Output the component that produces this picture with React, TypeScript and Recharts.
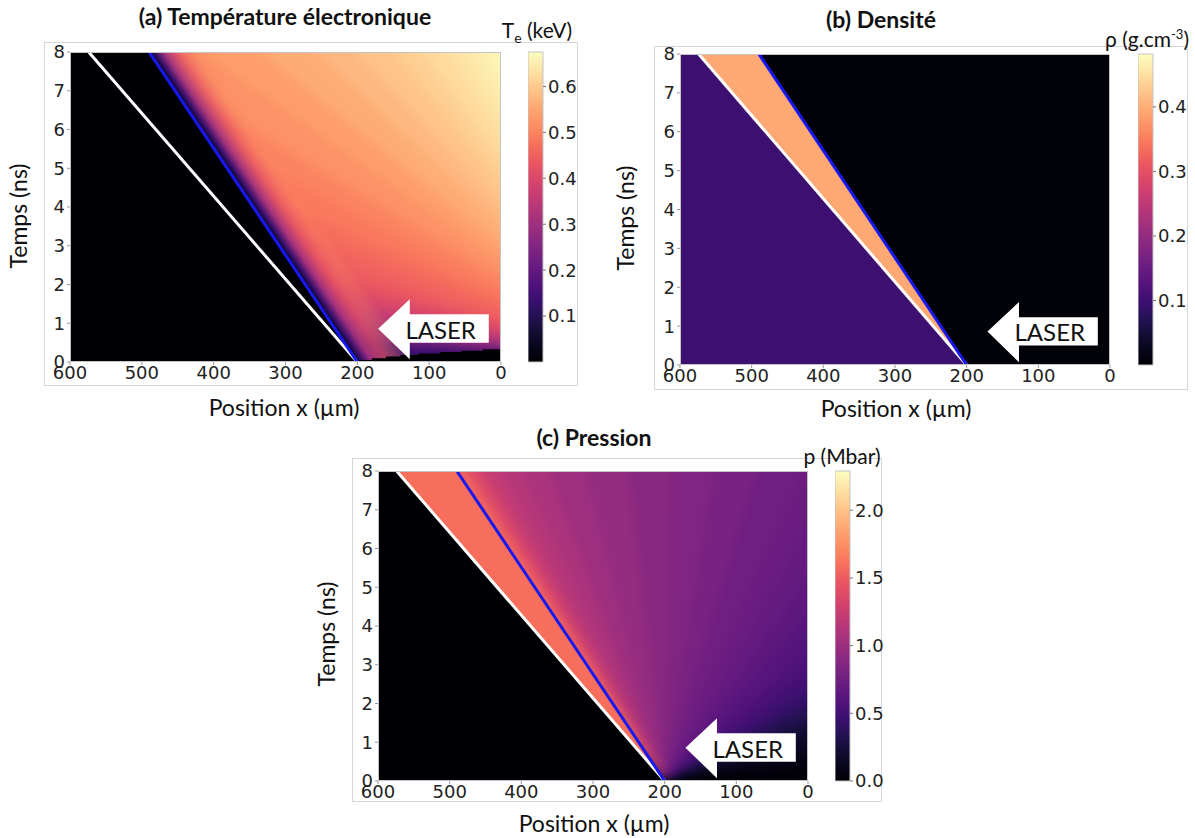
import React from 'react';
import { ComposedChart, Area, Line, Scatter, XAxis, YAxis } from 'recharts';

type Pt = [number, number];
type RangeRow = { x: number; r: [number, number] };

// ---- shared axes: position x in µm, time t in ns ----
const X_TICKS = [600, 500, 400, 300, 200, 100, 0];
const T_TICKS = [0, 1, 2, 3, 4, 5, 6, 7, 8];
const X_MAX = 600;
const T_MAX = 8;

// both fronts leave the target at x = 200 µm, t = 0
const FRONT_ORIGIN: Pt = [200, 0];
const WHITE_FRONT_TOP: Pt = [574, 8];
const BLUE_FRONT_TOP: Pt = [490, 8];

// white LASER arrow outline (x, [low t, high t])
const ARROW_X = [17, 127, 127, 171];
const ARROW_T: Pt[] = [[0.5, 1.23], [0.5, 1.23], [0.07, 1.62], [0.86, 0.86]];
const LASER_AT: Pt = [84, 0.85];

// ---- (a) electron temperature (keV) ----
const TE_MAX = 0.675;
const TE_TICKS = [0.1, 0.2, 0.3, 0.4, 0.5, 0.6];
// isotherms behind the blue front fan out from x = -200 µm, t = 0;
// TE_ISO_T0 = time at which each isotherm crosses x = 0
const TE_FAN_X = -200;
const TE_ISO_T0 = [0, 0.3, 0.5, 0.7, 0.9, 1.1, 1.35, 1.6, 1.9, 2.2, 2.6, 3.0, 3.5, 4.0, 4.6, 5.2, 5.9, 6.6, 7.3, 8.0, 12.0];
const TE_BAND_KEV = [0.135, 0.27, 0.34, 0.39, 0.43, 0.45, 0.465, 0.485, 0.5, 0.52, 0.538, 0.558, 0.575, 0.592, 0.608, 0.624, 0.638, 0.651, 0.662, 0.666];
// thin cooler layer just behind the blue front
const TE_EDGE_AT = [0, 0.1, 0.25, 0.5, 0.8, 1];
const TE_EDGE_KEV = [0.03, 0.13, 0.3, 0.42, 0.5, 0.5];
const TE_EDGE_ALPHA = [1, 1, 0.95, 0.7, 0.25, 0];
// cold strip along the bottom right
const TE_COLD_X = [0, 25, 55, 85, 115, 140, 160, 180, 200];
const TE_COLD_T = [0.33, 0.29, 0.26, 0.22, 0.18, 0.14, 0.1, 0.05, 0];

// ---- (b) density (g/cm3) ----
const RHO_MAX = 0.482;
const RHO_TICKS = [0.1, 0.2, 0.3, 0.4];
const RHO_TARGET = 0.099;
const RHO_SHELL = 0.395;
const RHO_VOID = 0.004;

// ---- (c) pressure (Mbar) ----
const P_MAX = 2.29;
const P_TICKS = [0, 0.5, 1, 1.5, 2];
const P_SHELL = 1.6;
// rarefaction fan from the origin: rays to the top edge, then to the right edge
const P_TOP_X = [490, 480, 468, 452, 430, 400, 360, 310, 250, 190, 130, 70, 0];
const P_RIGHT_T = [6.5, 5.2, 4.2, 3.4, 2.8, 2.3, 1.9, 1.5, 1.1, 0.7, 0.3, 0];
const P_WEDGE_MBAR = [
  1.56, 1.45, 1.33, 1.22, 1.14, 1.08, 1.01, 0.96, 0.9, 0.85, 0.8, 0.75,
  0.72, 0.69, 0.65, 0.6, 0.55, 0.49, 0.42, 0.32, 0.22, 0.14, 0.06, 0.015,
];

const MAGMA = [
  '#000004', '#07061c', '#140e36', '#251255', '#3b0f70', '#51127c', '#641a80',
  '#782281', '#8c2981', '#a1307e', '#b73779', '#cb3e71', '#de4968', '#ec5860',
  '#f7705c', '#fc8961', '#fe9f6d', '#feb77e', '#fecf92', '#fde7a9', '#fcfdbf',
];

const rgbOf = (h: string) => [1, 3, 5].map((i) => parseInt(h.slice(i, i + 2), 16));
function magma(v: number): string {
  const f = Math.max(0, Math.min(1, v)) * (MAGMA.length - 1);
  const i = Math.min(MAGMA.length - 2, Math.floor(f));
  const u = f - i;
  const a = rgbOf(MAGMA[i]);
  const b = rgbOf(MAGMA[i + 1]);
  return `rgb(${a.map((c, k) => Math.round(c + (b[k] - c) * u)).join(',')})`;
}

// convex triangle -> rows for a range Area
function tri(a: Pt, b: Pt, c: Pt): RangeRow[] {
  const v = [a, b, c].sort((p, q) => p[0] - q[0]);
  const span = (p: Pt, q: Pt): [number, number] => [Math.min(p[1], q[1]), Math.max(p[1], q[1])];
  if (v[0][0] === v[1][0]) return [{ x: v[0][0], r: span(v[0], v[1]) }, { x: v[2][0], r: [v[2][1], v[2][1]] }];
  if (v[1][0] === v[2][0]) return [{ x: v[0][0], r: [v[0][1], v[0][1]] }, { x: v[1][0], r: span(v[1], v[2]) }];
  const k = (v[1][0] - v[0][0]) / (v[2][0] - v[0][0]);
  const mid: Pt = [v[1][0], v[0][1] + (v[2][1] - v[0][1]) * k];
  return [
    { x: v[0][0], r: [v[0][1], v[0][1]] },
    { x: v[1][0], r: span(v[1], mid) },
    { x: v[2][0], r: [v[2][1], v[2][1]] },
  ];
}
// push a point further along its ray from the origin (so fans reach past the frame)
const reach = (p: Pt, s = 2): Pt => [FRONT_ORIGIN[0] + (p[0] - FRONT_ORIGIN[0]) * s, FRONT_ORIGIN[1] + (p[1] - FRONT_ORIGIN[1]) * s];

const beyondPlot: RangeRow[] = [{ x: -100, r: [-2, T_MAX + 2] }, { x: X_MAX + 100, r: [-2, T_MAX + 2] }];
const fullPlot: RangeRow[] = [{ x: 0, r: [0, T_MAX] }, { x: X_MAX, r: [0, T_MAX] }];
const leftOf = (top: Pt): RangeRow[] => [
  { x: FRONT_ORIGIN[0], r: [0, 0] },
  { x: top[0], r: [0, T_MAX] },
  { x: X_MAX, r: [0, T_MAX] },
];
const rightOf = (top: Pt): RangeRow[] => [
  { x: 0, r: [0, T_MAX] },
  { x: FRONT_ORIGIN[0], r: [0, T_MAX] },
  { x: top[0], r: [T_MAX, T_MAX] },
];
const frontLine = (top: Pt) => [{ x: FRONT_ORIGIN[0], t: 0 }, { x: top[0], t: top[1] }];
const arrowRows: RangeRow[] = ARROW_X.map((x, i) => ({ x, r: ARROW_T[i] }));
const border = [{ x: 0, t: 0 }, { x: 0, t: T_MAX }, { x: X_MAX, t: T_MAX }, { x: X_MAX, t: 0 }, { x: 0, t: 0 }];

const teRay = (t0: number, x: number) => (t0 * (x - TE_FAN_X)) / (0 - TE_FAN_X);
const teWedges = TE_BAND_KEV.map((kev, i) => ({
  rows: tri([TE_FAN_X, 0], [X_MAX + 100, teRay(TE_ISO_T0[i], X_MAX + 100)], [X_MAX + 100, teRay(TE_ISO_T0[i + 1], X_MAX + 100)]),
  color: magma(kev / TE_MAX),
}));
const teCold: RangeRow[] = TE_COLD_X.map((x, i) => ({ x, r: [0, TE_COLD_T[i]] }));

const pEdge: Pt[] = [...P_TOP_X.map((x): Pt => [x, T_MAX]), ...P_RIGHT_T.map((t): Pt => [0, t])];
const pWedges = P_WEDGE_MBAR.map((p, i) => ({
  rows: tri(FRONT_ORIGIN, reach(pEdge[i]), reach(pEdge[i + 1])),
  color: magma(p / P_MAX),
}));

type Box = { left: number; top: number; width: number; height: number };
const PLOT_A: Box = { left: 70, top: 52, width: 431, height: 310 };
const PLOT_B: Box = { left: 680, top: 54, width: 430, height: 311 };
const PLOT_C: Box = { left: 378, top: 471, width: 430, height: 310 };
const BAR_A: Box = { left: 528, top: 52, width: 15, height: 310 };
const BAR_B: Box = { left: 1138, top: 54, width: 15, height: 311 };
const BAR_C: Box = { left: 835, top: 471, width: 15, height: 310 };
const FRAMES: Box[] = [
  { left: 44, top: 42, width: 534, height: 344 },
  { left: 654, top: 46, width: 534, height: 344 },
  { left: 352, top: 458, width: 530, height: 344 },
];

const AXIS_TICK = { fontSize: 18, fontFamily: 'DejaVu Sans', fill: '#222' };
const WHITE = '#ffffff';
const BLUE = '#1818f0';

const region = (key: string, rows: RangeRow[], fill: string, type: any = 'linear', stroke = 'none') => (
  <Area
    key={key}
    data={rows}
    dataKey="r"
    type={type}
    fill={fill}
    fillOpacity={1}
    stroke={stroke}
    strokeWidth={stroke === 'none' ? 0 : 1}
    dot={false}
    activeDot={false}
    isAnimationActive={false}
  />
);

const fronts = (tag: string) => [
  <Line key={tag + 'w'} data={frontLine(WHITE_FRONT_TOP)} dataKey="t" stroke={WHITE} strokeWidth={3} dot={false} activeDot={false} isAnimationActive={false} />,
  <Line key={tag + 'b'} data={frontLine(BLUE_FRONT_TOP)} dataKey="t" stroke={BLUE} strokeWidth={3} dot={false} activeDot={false} isAnimationActive={false} />,
  region(tag + 'arrow', arrowRows, WHITE),
  <Scatter
    key={tag + 'laser'}
    data={[{ x: LASER_AT[0], t: LASER_AT[1] }]}
    dataKey="t"
    isAnimationActive={false}
    shape={(p: any) => (
      <text x={p.cx} y={p.cy} textAnchor="middle" dominantBaseline="central" fontFamily="Lato" fontSize={24} fill="#111">
        LASER
      </text>
    )}
  />,
];

// smooth field drawn under the crisp layer; blurred, then cut back to the plot rectangle
function FieldUnderlay({ box, items, blur }: { box: Box; items: React.ReactNode[]; blur: number }) {
  const E = 24;
  const dx = (E * X_MAX) / box.width;
  const dt = (E * T_MAX) / box.height;
  return (
    <div
      style={{
        position: 'absolute',
        left: box.left - E,
        top: box.top - E,
        filter: `blur(${blur}px)`,
        clipPath: `inset(${E}px)`,
      }}
    >
      <ComposedChart width={box.width + 2 * E} height={box.height + 2 * E} margin={{ top: 0, right: 0, bottom: 0, left: 0 }}>
        <XAxis type="number" dataKey="x" domain={[-dx, X_MAX + dx]} reversed allowDataOverflow hide />
        <YAxis type="number" domain={[-dt, T_MAX + dt]} allowDataOverflow hide />
        {items}
      </ComposedChart>
    </div>
  );
}

function FieldChart({ box, items, defs }: { box: Box; items: React.ReactNode[]; defs?: React.ReactNode }) {
  const padL = 60;
  const padT = 10;
  const padR = 10;
  const padB = 35;
  return (
    <div style={{ position: 'absolute', left: box.left - padL, top: box.top - padT }}>
      <ComposedChart
        width={box.width + padL + padR}
        height={box.height + padT + padB}
        margin={{ top: padT, right: padR, bottom: 0, left: 0 }}
      >
        {defs}
        <XAxis
          type="number"
          dataKey="x"
          domain={[0, X_MAX]}
          reversed
          allowDataOverflow
          ticks={X_TICKS}
          interval={0}
          height={padB}
          tick={AXIS_TICK}
          tickSize={3}
          tickMargin={1}
          axisLine={false}
          tickLine={{ stroke: '#999' }}
        />
        <YAxis
          type="number"
          domain={[0, T_MAX]}
          allowDataOverflow
          ticks={T_TICKS}
          interval={0}
          width={padL}
          tick={AXIS_TICK}
          tickSize={3}
          tickMargin={2}
          axisLine={false}
          tickLine={{ stroke: '#999' }}
        />
        {items}
        <Line data={border} dataKey="t" stroke="#c4c4c4" strokeWidth={2} dot={false} activeDot={false} isAnimationActive={false} />
      </ComposedChart>
    </div>
  );
}

function ColorBar({ box, max, ticks, id }: { box: Box; max: number; ticks: number[]; id: string }) {
  const padT = 10;
  const padR = 50;
  const bar: RangeRow[] = [{ x: 0, r: [0, max] }, { x: 1, r: [0, max] }];
  const edge = [{ x: 0, t: 0 }, { x: 0, t: max }, { x: 1, t: max }, { x: 1, t: 0 }, { x: 0, t: 0 }];
  return (
    <div style={{ position: 'absolute', left: box.left, top: box.top - padT }}>
      <ComposedChart
        width={box.width + padR}
        height={box.height + 2 * padT}
        margin={{ top: padT, right: 0, bottom: padT, left: 0 }}
      >
        <defs>
          <linearGradient id={id} x1="0" y1="1" x2="0" y2="0">
            {MAGMA.map((c, i) => (
              <stop key={i} offset={i / (MAGMA.length - 1)} stopColor={c} />
            ))}
          </linearGradient>
        </defs>
        <XAxis type="number" dataKey="x" domain={[0, 1]} hide />
        <YAxis
          type="number"
          orientation="right"
          domain={[0, max]}
          ticks={ticks}
          interval={0}
          width={padR}
          tick={AXIS_TICK}
          tickSize={3}
          tickMargin={2}
          axisLine={false}
          tickLine={{ stroke: '#777' }}
          tickFormatter={(v: number) => v.toFixed(1)}
        />
        <Area data={bar} dataKey="r" type="linear" fill={`url(#${id})`} fillOpacity={1} stroke="none" dot={false} activeDot={false} isAnimationActive={false} />
        <Line data={edge} dataKey="t" stroke="#c4c4c4" strokeWidth={1} dot={false} activeDot={false} isAnimationActive={false} />
      </ComposedChart>
    </div>
  );
}

function Txt({ x, y, size, bold, rotate, children }: any) {
  return (
    <div
      style={{
        position: 'absolute',
        left: x,
        top: y,
        transform: `translate(-50%, -50%)${rotate ? ' rotate(-90deg)' : ''}`,
        fontSize: size,
        fontWeight: bold ? 700 : 400,
        whiteSpace: 'nowrap',
        lineHeight: 1,
        color: '#111',
      }}
    >
      {children}
    </div>
  );
}

// edge-layer gradient runs perpendicular to the blue front, inside the bounding box of the hot region
const edgeU = (BLUE_FRONT_TOP[0] - FRONT_ORIGIN[0]) / BLUE_FRONT_TOP[0];
const edgeK = 0.17 / (1 + edgeU * edgeU);

export default function App() {
  const underA = [
    region('bg', beyondPlot, magma(0)),
    ...teWedges.map((w, i) => region('te' + i, w.rows, w.color, 'linear', w.color)),
  ];
  const panelA = [
    region('coldA', leftOf(BLUE_FRONT_TOP), magma(0)),
    region('edgeA', rightOf(BLUE_FRONT_TOP), 'url(#teEdge)'),
    region('stripA', teCold, magma(0), 'stepAfter'),
    ...fronts('a'),
  ];
  const panelB = [
    region('bg', fullPlot, magma(RHO_VOID / RHO_MAX)),
    region('target', leftOf(WHITE_FRONT_TOP), magma(RHO_TARGET / RHO_MAX)),
    region('shell', tri(FRONT_ORIGIN, WHITE_FRONT_TOP, BLUE_FRONT_TOP), magma(RHO_SHELL / RHO_MAX)),
    ...fronts('b'),
  ];
  const underC = [
    region('bg', beyondPlot, magma(0)),
    region('shell', tri(FRONT_ORIGIN, reach(WHITE_FRONT_TOP), reach(BLUE_FRONT_TOP)), magma(P_SHELL / P_MAX)),
    ...pWedges.map((w, i) => region('p' + i, w.rows, w.color, 'linear', w.color)),
  ];
  const panelC = [
    region('coldC', leftOf(WHITE_FRONT_TOP), magma(0)),
    region('shell', tri(FRONT_ORIGIN, WHITE_FRONT_TOP, BLUE_FRONT_TOP), magma(P_SHELL / P_MAX)),
    ...fronts('c'),
  ];
  const teDefs = (
    <defs>
      <linearGradient id="teEdge" x1={edgeU / 2} y1={0.5} x2={edgeU / 2 + edgeK} y2={0.5 - edgeK * edgeU}>
        {TE_EDGE_AT.map((o, i) => (
          <stop key={i} offset={o} stopColor={magma(TE_EDGE_KEV[i] / TE_MAX)} stopOpacity={TE_EDGE_ALPHA[i]} />
        ))}
      </linearGradient>
    </defs>
  );

  return (
    <div
      style={{
        position: 'absolute',
        left: 0,
        top: 0,
        width: 1195,
        height: 838,
        background: '#fff',
        fontFamily: 'Lato, sans-serif',
        overflow: 'hidden',
      }}
    >
      {FRAMES.map((f, i) => (
        <div
          key={i}
          style={{
            position: 'absolute',
            left: f.left,
            top: f.top,
            width: f.width,
            height: f.height,
            border: '1px solid #d6d6d6',
            boxSizing: 'border-box',
          }}
        />
      ))}

      <FieldUnderlay box={PLOT_A} items={underA} blur={6} />
      <FieldChart box={PLOT_A} items={panelA} defs={teDefs} />
      <ColorBar box={BAR_A} max={TE_MAX} ticks={TE_TICKS} id="cbA" />
      <FieldChart box={PLOT_B} items={panelB} />
      <ColorBar box={BAR_B} max={RHO_MAX} ticks={RHO_TICKS} id="cbB" />
      <FieldUnderlay box={PLOT_C} items={underC} blur={5} />
      <FieldChart box={PLOT_C} items={panelC} />
      <ColorBar box={BAR_C} max={P_MAX} ticks={P_TICKS} id="cbC" />

      <Txt x={285} y={16} size={23} bold>(a) Température électronique</Txt>
      <Txt x={881} y={19} size={23} bold>(b) Densité</Txt>
      <Txt x={594} y={437} size={23} bold>(c) Pression</Txt>

      <Txt x={284} y={407} size={23}>Position x (µm)</Txt>
      <Txt x={896} y={408} size={23}>Position x (µm)</Txt>
      <Txt x={594} y={823} size={23}>Position x (µm)</Txt>

      <Txt x={18} y={216} size={23} rotate>Temps (ns)</Txt>
      <Txt x={625} y={218} size={23} rotate>Temps (ns)</Txt>
      <Txt x={326} y={634} size={23} rotate>Temps (ns)</Txt>

      <Txt x={537} y={32} size={21}>
        T<span style={{ fontSize: 14, verticalAlign: -5 }}>e</span> (keV)
      </Txt>
      <Txt x={1147} y={38} size={21}>
        ρ (g.cm<span style={{ fontSize: 13, verticalAlign: 8 }}>-3</span>)
      </Txt>
      <Txt x={842} y={455} size={21}>p (Mbar)</Txt>
    </div>
  );
}
